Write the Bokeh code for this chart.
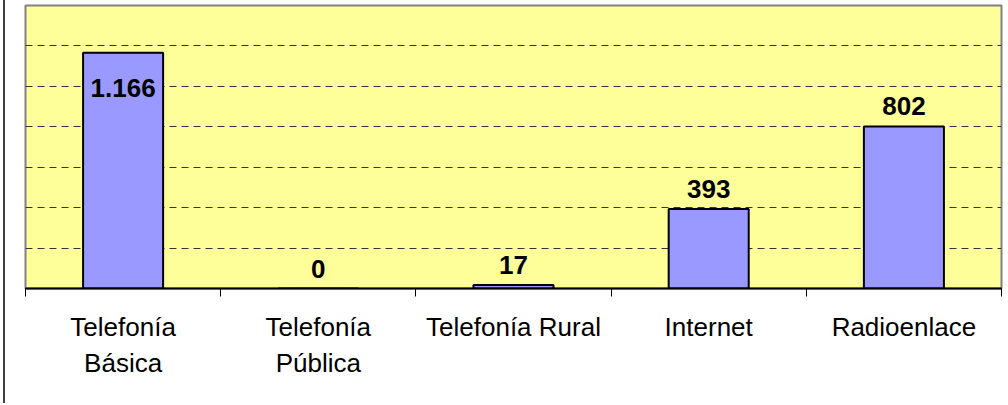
from bokeh.plotting import figure
from bokeh.models import ColumnDataSource, Range1d, LinearAxis, FixedTicker, Grid, Div
from bokeh.layouts import row
from bokeh.core.properties import value
from bokeh.embed import file_html
from bokeh.resources import INLINE
import numpy as np

categories = ["Telefonía\nBásica", "Telefonía\nPública", "Telefonía Rural", "Internet", "Radioenlace"]
values = [1166, 0, 17, 393, 802]
y_ticks = [200, 400, 600, 800, 1000, 1200]
y_max = 1400

n = len(categories)
xs = np.arange(n) + 0.5
labels = [f"{v:,}".replace(",", ".") for v in values]
offsets = [35 if v > 1100 else -20 for v in values]

src = ColumnDataSource(dict(x=xs, top=values, label=labels, off=offsets))

p = figure(width=1003, height=405, output_backend="svg", toolbar_location=None,
           x_range=Range1d(0, n), y_range=Range1d(0, y_max),
           x_axis_location=None, y_axis_location=None,
           min_border_left=20, min_border_right=7, min_border_top=5, min_border_bottom=117,
           background_fill_color="#FFFF99", border_fill_color="white")
p.margin = 0
p.outline_line_color = "#808080"
p.outline_line_width = 2
for g in p.xgrid + p.ygrid:
    g.visible = False

p.add_layout(Grid(dimension=1, ticker=FixedTicker(ticks=y_ticks),
                  grid_line_color="#333333", grid_line_width=1, grid_line_dash="7 5"))

p.vbar(x="x", top="top", width=0.41, bottom=0, source=src,
       fill_color="#9999FF", line_color="black", line_width=2)

p.text(x="x", y="top", text="label", y_offset="off", source=src,
       text_align="center", text_baseline="middle",
       text_font=value("Liberation Sans"), text_font_style="bold",
       text_font_size="26px", text_color="black")

ax = LinearAxis(ticker=FixedTicker(ticks=list(xs), minor_ticks=list(range(n + 1))))
ax.major_label_overrides = {float(x): c for x, c in zip(xs, categories)}
ax.axis_line_color = "black"
ax.axis_line_width = 2
ax.major_tick_line_color = None
ax.major_tick_in = 0
ax.major_tick_out = 0
ax.minor_tick_line_color = "black"
ax.minor_tick_line_width = 1
ax.minor_tick_in = 0
ax.minor_tick_out = 8
ax.major_label_standoff = 15
ax.major_label_text_font = "Liberation Sans"
ax.major_label_text_font_size = "26px"
ax.major_label_text_color = "black"
p.add_layout(ax, "below")

edge = Div(text="", width=5, height=403, margin=0,
           styles={"border-right": "2px solid #404040", "background": "white",
                   "padding": "0"})
layout = row(edge, p, spacing=0, margin=0)

html = file_html(layout, INLINE)
html = html.replace("<body>", '<body style="margin:0; background:white;">', 1)
open("out.html", "w").write(html)
